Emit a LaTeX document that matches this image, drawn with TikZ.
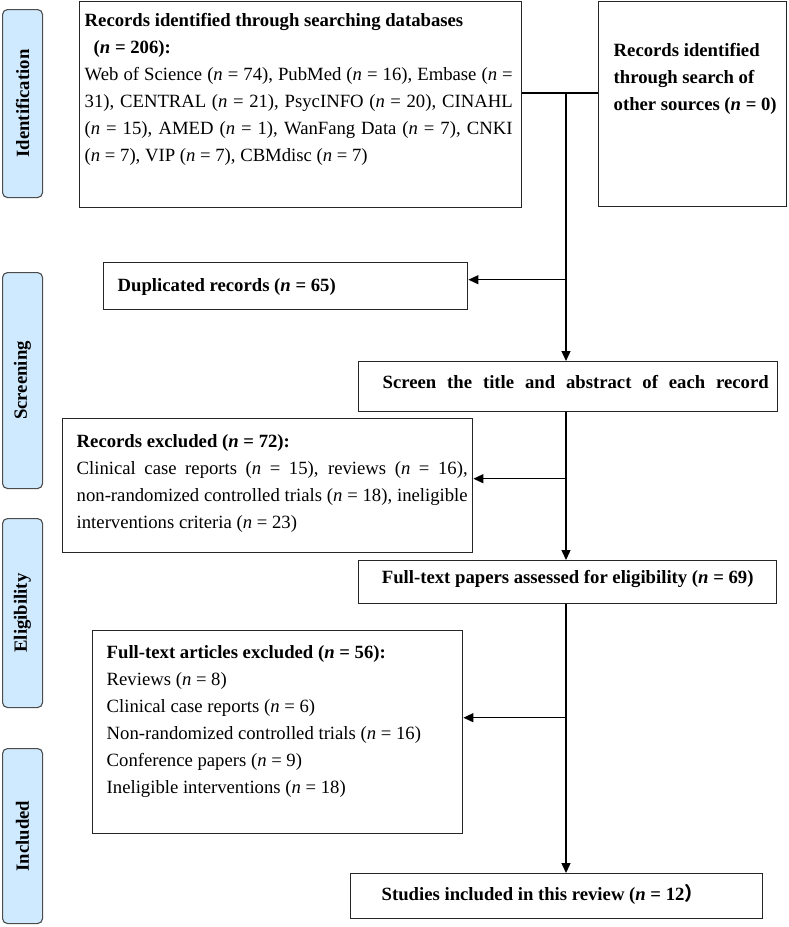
\documentclass[tikz,border=0pt]{standalone}
\usepackage{fontspec}
\setmainfont{Liberation Serif}
\newfontfamily\cjkfont{Noto Sans CJK SC}
\usepackage{graphicx}
\usetikzlibrary{arrows.meta}

\definecolor{phasefill}{RGB}{207,234,255}
\newcommand{\diagfont}{\fontsize{18.7}{27}\selectfont}
% width, height, top gap, left gap, right gap, text
\newcommand{\boxtext}[6]{\parbox[c][#2pt][t]{#1pt}{\vspace*{#3pt}\leftskip=#4pt\rightskip=#5pt\noindent#6\par}}

\tikzset{
  phase/.style={draw=black!70, fill=phasefill, rounded corners=5pt, line width=1.1pt,
    minimum width=40pt, inner sep=0pt, anchor=north west, font=\diagfont\bfseries},
  record/.style={draw=black!85, line width=1.4pt, inner sep=0pt, anchor=north west, font=\diagfont},
  link/.style={line width=1.4pt},
  arr/.style={-{Triangle[length=10pt,width=9pt]}, line width=1.4pt}
}

\begin{document}
\begin{tikzpicture}[x=1pt, y=-1pt]
  \useasboundingbox (0,0) rectangle (788,927);
  % Phase labels
  \node[phase, minimum height=188pt] (ident)  at (2,9)   {\rotatebox{90}{Identification}};
  \node[phase, minimum height=216pt] (screen) at (2,272) {\rotatebox{90}{Screening}};
  \node[phase, minimum height=189pt] (elig)   at (2,518) {\rotatebox{90}{Eligibility}};
  \node[phase, minimum height=175pt] (incl)   at (2,748) {\rotatebox{90}{Included}};
  % Define nodes
  \node[record] (db) at (79,1) {\boxtext{442}{206}{11.5}{5}{9}{%
    \textbf{Records identified through searching databases}\\
    \hspace*{9pt}\textbf{(\textit{n} = 206):}\\
    Web of Science (\textit{n} = 74), PubMed (\textit{n} = 16), Embase (\textit{n} =\linebreak
    31), CENTRAL (\textit{n} = 21), PsycINFO (\textit{n} = 20), CINAHL\linebreak
    (\textit{n} = 15), AMED (\textit{n} = 1), WanFang Data (\textit{n} = 7), CNKI\linebreak
    (\textit{n} = 7), VIP (\textit{n} = 7), CBMdisc (\textit{n} = 7)}};
  \node[record] (other) at (598,1) {\boxtext{188}{205}{41.5}{15}{5}{\bfseries
    Records identified\\ through search of\\ other sources (\textit{n} = 0)}};
  \node[record] (dup) at (103,262) {\boxtext{364}{47}{15.5}{14}{5}{\bfseries
    Duplicated records (\textit{n} = 65)}};
  \node[record] (title) at (358,361) {\boxtext{419}{50}{13.5}{24}{9}{\bfseries
    \makebox[386pt][s]{Screen the title and abstract of each record}}};
  \node[record] (excl) at (62,418) {\boxtext{410}{134}{15.5}{14}{5}{%
    \textbf{Records excluded (\textit{n} = 72):}\\
    Clinical case reports (\textit{n} = 15), reviews (\textit{n} = 16),\linebreak
    non-randomized controlled trials (\textit{n} = 18), ineligible\linebreak
    interventions criteria (\textit{n} = 23)}};
  \node[record] (full) at (358,560) {\boxtext{418}{43}{9.5}{0}{0}{\centering\bfseries
    Full-text papers assessed for eligibility (\textit{n} = 69)}};
  \node[record] (drop) at (92,630) {\boxtext{370}{203}{14.5}{14}{5}{%
    \textbf{Full-text articles excluded (\textit{n} = 56):}\\
    Reviews (\textit{n} = 8)\\
    Clinical case reports (\textit{n} = 6)\\
    Non-randomized controlled trials (\textit{n} = 16)\\
    Conference papers (\textit{n} = 9)\\
    Ineligible interventions (\textit{n} = 18)}};
  \node[record] (final) at (350,873) {\boxtext{412}{45}{10.5}{31}{5}{\bfseries
    Studies included in this review (\textit{n} = 12{\cjkfont ）}}};
  % Connect nodes
  \coordinate (split) at (566,93);
  \coordinate (dupin) at ([yshift=6.5pt]dup.east);
  \coordinate (exclin) at ([yshift=7pt]excl.east);
  \coordinate (dropin) at ([yshift=14.5pt]drop.east);
  \draw[link] (db.east |- split) -- (other.west |- split);
  \draw[arr] (split) -- (split |- title.north);
  \draw[arr] (dupin -| split) -- (dupin);
  \draw[arr] (split |- title.south) -- (split |- full.north);
  \draw[arr] (exclin -| split) -- (exclin);
  \draw[arr] (split |- full.south) -- (split |- final.north);
  \draw[arr] (dropin -| split) -- (dropin);
\end{tikzpicture}
\end{document}
